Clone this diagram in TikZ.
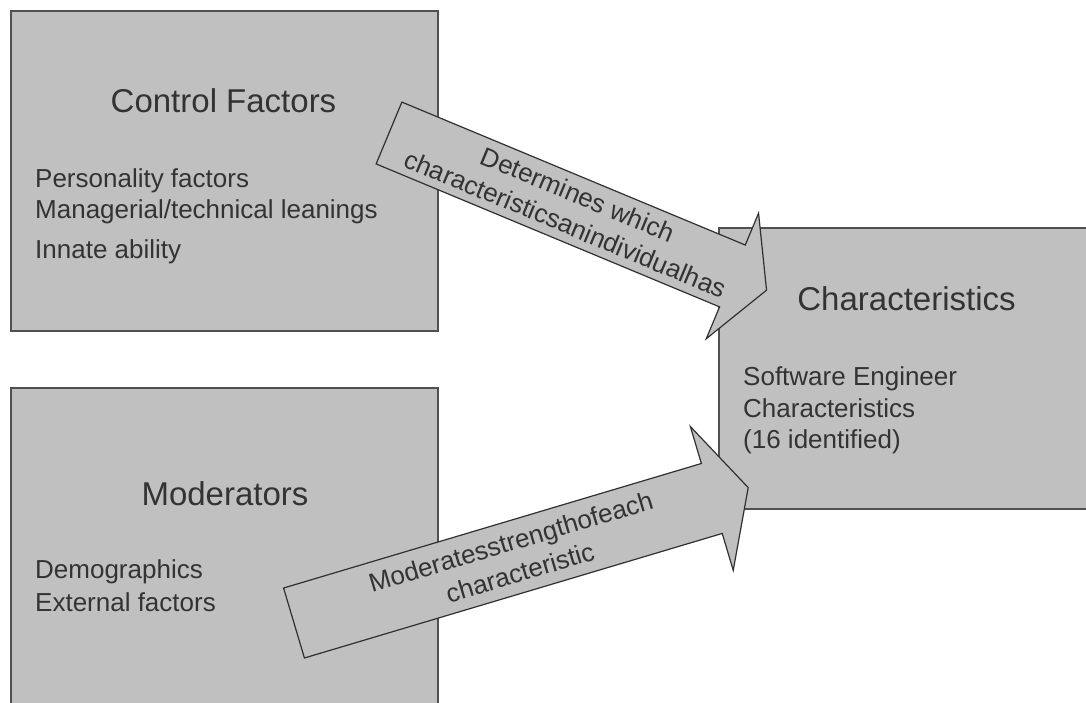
\documentclass[tikz,border=0pt]{standalone}
\usepackage{fontspec}
\setmainfont{Liberation Sans}
\definecolor{boxfill}{HTML}{C0C0C0}
\definecolor{boxline}{HTML}{505050}
\definecolor{arrline}{HTML}{303030}
\definecolor{txt}{HTML}{333333}
\begin{document}
\begin{tikzpicture}[x=1pt,y=-1pt,
  box/.style={draw=boxline, line width=1.5pt, fill=boxfill, inner sep=0pt, anchor=north west},
  blockarrow/.style={draw=arrline, line width=1.2pt, fill=boxfill, line join=miter},
  title/.style={font=\fontsize{33}{38}\selectfont, text=txt, inner sep=0pt, anchor=base},
  item/.style={font=\fontsize{26}{30}\selectfont, text=txt, inner sep=0pt, anchor=base west},
  arrowtext/.style={font=\fontsize{26}{32}\selectfont, text=txt, inner sep=0pt, align=center, transform shape}]
\useasboundingbox (0,0) rectangle (1086,702);
\clip (0,0) rectangle (1086,702);
% boxes
\node[box, minimum width=427pt, minimum height=320pt] (ctrl) at (10,10) {};
\node[box, minimum width=427pt, minimum height=330pt] (mod) at (10,387) {};
\node[box, minimum width=377pt, minimum height=281pt] (chars) at (718,227) {};
% titles
\node[title] (ctrlT) at (223.5,112) {Control Factors};
\node[title] (modT) at (225,505) {Moderators};
\node[title] (charsT) at (906.5,310) {Characteristics};
% items
\node[item] (c1) at (35,187) {Personality factors};
\node[item] (c2) at (35,218) {Managerial/technical leanings};
\node[item] (c3) at (35,258) {Innate ability};
\node[item] (m1) at (35,578) {Demographics};
\node[item] (m2) at (35,611) {External factors};
\node[item] (s1) at (743,385) {Software Engineer};
\node[item] (s2) at (743,417) {Characteristics};
\node[item] (s3) at (743,448) {(16 identified)};
% arrow 1
\begin{scope}[shift={(389,133)}, rotate=-22.6]
  \coordinate (a1tail) at (0,0);
  \coordinate (a1tip) at (409,0);
  \draw[blockarrow] (0,-33.5) -- (372,-33.5) -- (372,-68) -- (a1tip) -- (372,68) -- (372,33.5) -- (0,33.5) -- cycle;
  \node[arrowtext] (a1text) at (198,0) {Determines which\\characteristicsanindividualhas};
\end{scope}
% arrow 2
\begin{scope}[shift={(294,623)}, rotate=16.6]
  \coordinate (a2tail) at (0,0);
  \coordinate (a2tip) at (474,0);
  \draw[blockarrow] (0,-36.5) -- (436,-36.5) -- (436,-75) -- (a2tip) -- (436,75) -- (436,36.5) -- (0,36.5) -- cycle;
  \node[arrowtext] (a2text) at (231,0) {Moderatesstrengthofeach\\characteristic};
\end{scope}
\end{tikzpicture}
\end{document}
